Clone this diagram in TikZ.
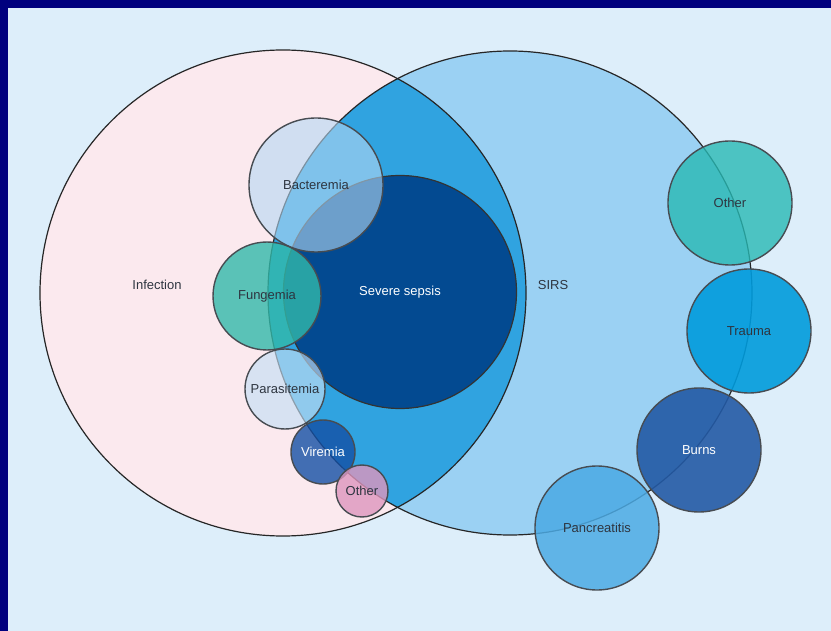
\documentclass[tikz,border=0pt]{standalone}
\usepackage{fontspec}
\setmainfont{Liberation Sans}
\definecolor{frame}{HTML}{00007E}
\definecolor{paper}{HTML}{DDEEFA}
\definecolor{infectfill}{HTML}{FBE9EE}
\definecolor{sirsfill}{HTML}{9BD1F3}
\definecolor{bothfill}{HTML}{30A3E0}
\definecolor{sepsisfill}{HTML}{034A91}
\definecolor{bubbleline}{HTML}{474C52}
\definecolor{labeltext}{HTML}{2E3540}
\definecolor{bactfill}{HTML}{B4D8F3}
\definecolor{fungfill}{HTML}{32B9AA}
\definecolor{parafill}{HTML}{C4DFF5}
\definecolor{virfill}{HTML}{1450A5}
\definecolor{otherpink}{HTML}{DE96BE}
\definecolor{otherteal}{HTML}{28B9B4}
\definecolor{traumafill}{HTML}{009BDC}
\definecolor{burnsfill}{HTML}{235AA5}
\definecolor{pancfill}{HTML}{4BAAE4}
\tikzset{
  setline/.style={draw=black!85, line width=1.2pt},
  setlabel/.style={font=\fontsize{13}{15}\selectfont, text=labeltext},
  bubble/.style={circle, draw=bubbleline, line width=1.4pt, inner sep=0pt,
    fill opacity=0.8, text opacity=1, font=\fontsize{13}{15}\selectfont, text=labeltext},
}
\begin{document}
\begin{tikzpicture}[x=1pt,y=-1pt]
% frame and paper
\fill[frame] (0,0) rectangle (831,631);
\fill[paper] (8,8) rectangle (831,631);

% the two big sets
\node[circle, fill=infectfill, minimum size=486pt, inner sep=0pt] (infection) at (283,293) {};
\node[circle, fill=sirsfill, minimum size=484pt, inner sep=0pt] (sirs) at (510,293) {};
\begin{scope}
  \clip (infection.center) circle (243pt);
  \fill[bothfill] (sirs.center) circle (242pt);
\end{scope}
\draw[setline] (infection.center) circle (243pt);
\draw[setline] (sirs.center) circle (242pt);
\node[setlabel] (inflabel) at (157,285) {Infection};
\node[setlabel] (sirslabel) at (553,285) {SIRS};

% severe sepsis
\node[circle, fill=sepsisfill, draw=black!80, line width=1.2pt, minimum size=233pt,
  font=\fontsize{13}{15}\selectfont, text=white] (sepsis) at (400,292) {Severe sepsis};

% infections
\node[bubble, fill=bactfill, minimum size=134pt, fill opacity=0.6] (bact) at (316,185) {Bacteremia};
\node[bubble, fill=fungfill, minimum size=108pt] (fung) at (267,296) {Fungemia};
\node[bubble, fill=parafill, minimum size=80pt, fill opacity=0.65] (para) at (285,389) {Parasitemia};
\node[bubble, fill=virfill, minimum size=64pt, text=white] (vir) at (323,452) {Viremia};
\node[bubble, fill=otherpink, minimum size=52pt] (otherinf) at (362,491) {Other};

% non-infectious causes
\node[bubble, fill=otherteal, minimum size=124pt] (othersirs) at (730,203) {Other};
\node[bubble, fill=traumafill, minimum size=124pt, fill opacity=0.9] (trauma) at (749,331) {Trauma};
\node[bubble, fill=burnsfill, minimum size=124pt, fill opacity=0.9, text=white] (burns) at (699,450) {Burns};
\node[bubble, fill=pancfill, minimum size=124pt, fill opacity=0.85] (panc) at (597,528) {Pancreatitis};
\end{tikzpicture}
\end{document}
